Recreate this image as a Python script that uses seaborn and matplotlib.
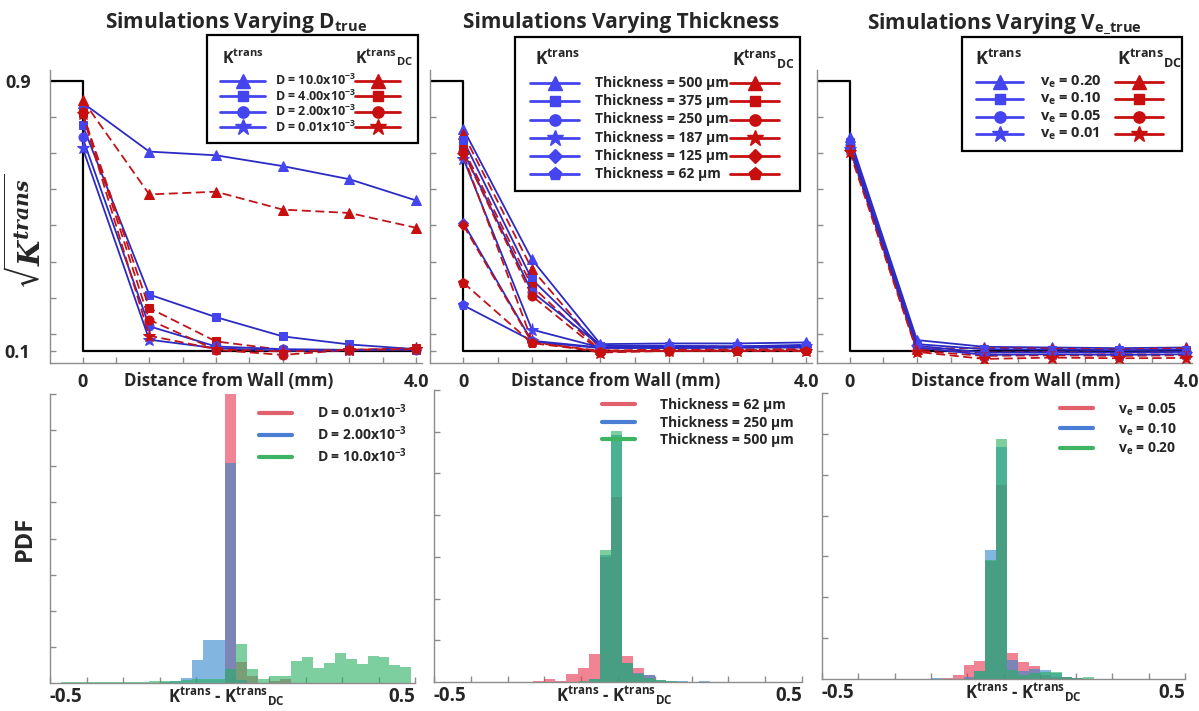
import numpy as np
import pandas as pd
import matplotlib
matplotlib.use("Agg")
import matplotlib.pyplot as plt
import seaborn as sns
from matplotlib.lines import Line2D
from matplotlib.text import Text
from matplotlib.offsetbox import DrawingArea, HPacker, VPacker, AnchoredOffsetbox

sns.set_theme(style="white")
plt.rcParams.update({
    "font.family": ["Open Sans", "DejaVu Sans"],
    "font.weight": "bold",
    "mathtext.fontset": "custom",
    "mathtext.rm": "Open Sans:bold",
    "mathtext.bf": "Open Sans:bold",
    "mathtext.it": "Open Sans:italic:bold",
    "mathtext.default": "rm",
})

# ---------------------------------------------------------------- data
distance_mm = [0.0, 0.8, 1.6, 2.4, 3.2, 4.0]
true_x = [-0.39, 0.0, 0.0, 4.0]
true_y = [0.9, 0.9, 0.1, 0.1]

# varying D
d_labels = ["D = 10.0x10$^{-3}$", "D = 4.00x10$^{-3}$",
            "D = 2.00x10$^{-3}$", "D = 0.01x10$^{-3}$"]
d_ktrans = [
    [0.836, 0.691, 0.680, 0.648, 0.609, 0.546],
    [0.770, 0.267, 0.200, 0.143, 0.119, 0.105],
    [0.733, 0.173, 0.113, 0.105, 0.103, 0.103],
    [0.703, 0.133, 0.108, 0.100, 0.102, 0.105],
]
d_ktrans_dc = [
    [0.845, 0.564, 0.572, 0.519, 0.509, 0.465],
    [0.805, 0.227, 0.128, 0.103, 0.103, 0.108],
    [0.807, 0.192, 0.103, 0.088, 0.103, 0.105],
    [0.802, 0.145, 0.105, 0.098, 0.103, 0.105],
]

# varying wall thickness
t_labels = ["Thickness = 500 µm", "Thickness = 375 µm", "Thickness = 250 µm",
            "Thickness = 187 µm", "Thickness = 125 µm", "Thickness = 62 µm"]
t_ktrans = [
    [0.758, 0.371, 0.120, 0.122, 0.122, 0.125],
    [0.724, 0.312, 0.115, 0.115, 0.113, 0.115],
    [0.690, 0.275, 0.115, 0.113, 0.113, 0.118],
    [0.670, 0.163, 0.110, 0.110, 0.112, 0.115],
    [0.479, 0.128, 0.108, 0.110, 0.110, 0.112],
    [0.235, 0.130, 0.110, 0.108, 0.110, 0.110],
]
t_ktrans_dc = [
    [0.743, 0.343, 0.105, 0.115, 0.112, 0.110],
    [0.699, 0.292, 0.100, 0.105, 0.105, 0.105],
    [0.689, 0.263, 0.098, 0.100, 0.102, 0.105],
    [0.680, 0.130, 0.095, 0.100, 0.100, 0.100],
    [0.472, 0.125, 0.100, 0.100, 0.102, 0.102],
    [0.302, 0.123, 0.098, 0.100, 0.100, 0.100],
]

# varying ve
v_labels = ["v$_e$ = 0.20", "v$_e$ = 0.10", "v$_e$ = 0.05", "v$_e$ = 0.01"]
v_ktrans = [
    [0.733, 0.132, 0.112, 0.110, 0.108, 0.110],
    [0.720, 0.120, 0.105, 0.104, 0.102, 0.104],
    [0.710, 0.115, 0.095, 0.096, 0.095, 0.097],
    [0.700, 0.110, 0.088, 0.090, 0.088, 0.090],
]
v_ktrans_dc = [
    [0.713, 0.107, 0.108, 0.107, 0.104, 0.108],
    [0.705, 0.105, 0.095, 0.097, 0.094, 0.096],
    [0.698, 0.100, 0.085, 0.087, 0.085, 0.087],
    [0.690, 0.097, 0.076, 0.080, 0.078, 0.079],
]

# histograms of Ktrans - Ktrans_DC (bin width 0.03)
hist_edges = [round(-0.5 + 0.03 * k, 2) for k in range(34)]

d_hist_labels = ["D = 0.01x10$^{-3}$", "D = 2.00x10$^{-3}$", "D = 10.0x10$^{-3}$"]
d_hist = [
    [0, 0, 0, 0, 0, 0, 0, 0, 0, 0, 0, 0, 0, 0, 0, 0, 8.0, 0.59, 0.20, 0,
     0.05, 0.10, 0, 0, 0, 0, 0, 0, 0, 0, 0, 0, 0],
    [0, 0, 0, 0, 0, 0, 0, 0, 0, 0, 0.03, 0.05, 0.15, 0.65, 1.19, 1.20, 6.1, 0.08,
     0, 0, 0, 0, 0, 0, 0, 0, 0, 0, 0, 0, 0, 0, 0],
    [0, 0.02, 0.03, 0.02, 0.02, 0.03, 0.03, 0.04, 0.04, 0.05, 0.05, 0.06, 0.08,
     0.10, 0.10, 0.12, 0.38, 1.07, 0.38, 0.12, 0.18, 0.19, 0.62, 0.73, 0.41,
     0.55, 0.82, 0.66, 0.52, 0.75, 0.72, 0.50, 0.43],
]

t_hist_labels = ["Thickness = 62 µm", "Thickness = 250 µm", "Thickness = 500 µm"]
t_hist = [
    [0, 0, 0, 0, 0, 0, 0, 0, 0, 0.03, 0.06, 0.03, 0.18, 0.34, 0.68, 3.0, 4.44,
     0.63, 0.34, 0.16, 0.03, 0, 0, 0, 0, 0, 0, 0, 0, 0, 0, 0, 0],
    [0, 0, 0, 0, 0, 0, 0, 0, 0, 0, 0, 0, 0, 0, 0.08, 3.04, 5.92, 0.46, 0.22,
     0.16, 0.05, 0.03, 0.02, 0, 0.02, 0, 0, 0, 0, 0, 0, 0, 0],
    [0, 0, 0, 0, 0, 0, 0, 0, 0, 0, 0, 0, 0, 0.03, 0.08, 3.16, 6.02, 0.46, 0.20,
     0.10, 0.04, 0.03, 0, 0, 0, 0, 0, 0, 0, 0, 0, 0, 0],
]

v_hist_labels = ["v$_e$ = 0.05", "v$_e$ = 0.10", "v$_e$ = 0.20"]
v_hist = [
    [0, 0, 0, 0, 0, 0, 0, 0, 0, 0, 0, 0.02, 0.11, 0.35, 0.45, 2.90, 4.76, 0.64,
     0.41, 0.31, 0.10, 0.06, 0.05, 0.03, 0, 0, 0, 0, 0, 0, 0, 0, 0],
    [0, 0, 0, 0, 0, 0, 0, 0, 0, 0, 0.02, 0, 0, 0.05, 0.19, 3.15, 5.69, 0.47,
     0.20, 0.24, 0.21, 0.15, 0.05, 0.02, 0, 0, 0, 0, 0, 0, 0, 0, 0],
    [0, 0, 0, 0, 0, 0, 0, 0, 0, 0, 0, 0, 0, 0, 0.19, 2.92, 5.87, 0.23, 0.10,
     0.15, 0.18, 0.18, 0.05, 0.03, 0.04, 0, 0, 0, 0, 0, 0, 0, 0],
]

# ---------------------------------------------------------------- style
BLUE_LINE = "#2B2BC4"
BLUE_MK = "#4545F0"
RED_LINE = "#C0141A"
RED_MK = "#C80F10"
SPINE = "#8C8C8C"
HIST_COLORS = ["#E6334D", "#2F86CC", "#26B060"]
HIST_KEY_COLORS = ["#E0606C", "#4A7ED4", "#3CB462"]

profile_markers4 = [("^", 7.5), ("s", 6.0), ("o", 6.5), ("*", 9.5)]
profile_markers6 = [("^", 7.5), ("s", 6.0), ("o", 6.5), ("*", 9.5), ("D", 5.5), ("p", 7.5)]

K_TRANS = r"K$^{\mathbf{trans}}$"
K_TRANS_DC = r"K$^{\mathbf{trans}}{}_{\mathbf{DC}}$"

W, H = 1199, 711
PT = 72.0 / 100.0
fig = plt.figure(figsize=(W / 100, H / 100), dpi=100)
fig.patch.set_facecolor("white")


def axes_px(left, right, top, bottom):
    return fig.add_axes([left / W, 1 - bottom / H, (right - left) / W, (bottom - top) / H])


def style_spines(ax):
    sns.despine(ax=ax)
    for side in ("left", "bottom"):
        ax.spines[side].set_color(SPINE)
        ax.spines[side].set_linewidth(1.0)


def profile_panel(ax, title, blues, reds, marks, xlabel_x):
    ax.plot(true_x, true_y, color="black", lw=1.6, zorder=2)
    for b, r, (m, ms) in zip(blues, reds, marks):
        sns.lineplot(x=distance_mm, y=b, ax=ax, color=BLUE_LINE, lw=1.3,
                     marker=m, markersize=ms, markerfacecolor=BLUE_MK,
                     markeredgecolor=BLUE_MK, sort=False, estimator=None,
                     legend=False, zorder=3)
        sns.lineplot(x=distance_mm, y=r, ax=ax, color=RED_LINE, lw=1.3,
                     linestyle=(0, (5, 2.5)), marker=m, markersize=ms,
                     markerfacecolor=RED_MK, markeredgecolor=RED_MK,
                     sort=False, estimator=None, legend=False, zorder=3)
    ax.set_xlim(-0.39, 4.07)
    ax.set_ylim(0.064, 0.933)
    xt = np.round(np.arange(0, 4.01, 0.4), 1)
    ax.set_xticks(xt)
    ax.set_xticklabels(["0"] + [""] * 9 + ["4.0"])
    ax.set_yticks([0.1, 0.9])
    ax.set_yticks([0.793, 0.686, 0.579, 0.472, 0.365, 0.258, 0.151], minor=True)
    ax.set_yticklabels([])
    ax.tick_params(axis="both", which="both", direction="in", length=4,
                   color=SPINE, width=1, bottom=True, left=True, labelsize=13)
    ax.tick_params(axis="x", pad=7)
    ax.set_xlabel("")
    ax.set_ylabel("")
    ax.annotate("Distance from Wall (mm)", xy=(xlabel_x, 0), xycoords="axes fraction",
                xytext=(0, -13), textcoords="offset points", ha="center",
                va="center", fontsize=12.2, fontweight="bold")
    ax.set_title(title, fontsize=15, fontweight="bold", pad=30)
    style_spines(ax)


def hist_panel(ax, series, labels, ymax, xlabel_x):
    centers = [(a + b) / 2 for a, b in zip(hist_edges[:-1], hist_edges[1:])]
    for h, c in zip(series, HIST_COLORS):
        frame = pd.DataFrame({"diff": centers, "pdf": h})
        sns.histplot(data=frame, x="diff", weights="pdf", bins=hist_edges, ax=ax,
                     color=c, alpha=0.6, linewidth=0, stat="count", element="bars")
    ax.set_xlim(-0.5, 0.5)
    ax.set_ylim(0, ymax)
    xt = np.round(np.arange(-0.5, 0.501, 0.1), 1)
    ax.set_xticks(xt)
    ax.set_xticklabels(["-0.5"] + [""] * 9 + ["0.5"], fontsize=13.5)
    lbls = ax.get_xticklabels()
    lbls[0].set_ha("left")
    lbls[-1].set_ha("right")
    ax.set_yticks(np.arange(1, ymax + 1))
    ax.set_yticklabels([])
    ax.tick_params(axis="both", direction="in", length=4, color=SPINE, width=1,
                   bottom=True, left=True, pad=3)
    ax.set_xlabel("")
    ax.set_ylabel("")
    ax.annotate(K_TRANS + " - " + K_TRANS_DC, xy=(xlabel_x, 0),
                xycoords="axes fraction", xytext=(0, -10),
                textcoords="offset points", ha="center", va="center",
                fontsize=12, fontweight="bold")
    handles = [Line2D([], [], color=c, lw=3.0) for c in HIST_KEY_COLORS]
    ax.legend(handles, labels, loc="upper right", frameon=False, fontsize=10,
              handlelength=2.4, handletextpad=1.8, labelspacing=0.25,
              borderaxespad=0.2)
    style_spines(ax)


def key_box(ax, labels, marks, left, top, pad, head_h, row_h, cols, fs,
            head_x, line_span):
    bw, tw, rw = cols

    def cell(w, h):
        return DrawingArea(w * PT, h * PT, 0, 0, clip=False)

    def handle(w, color, m, ms, l0, l1):
        da = cell(w, row_h)
        y = row_h * PT / 2
        da.add_artist(Line2D([l0 * PT, l1 * PT], [y, y], color=color, lw=2.0))
        da.add_artist(Line2D([(l0 + l1) / 2 * PT], [y], color=color,
                             marker=m, markersize=ms * 1.25, linestyle="none"))
        return da

    rows = []
    hb, ht, hr = cell(bw, head_h), cell(tw, head_h), cell(rw, head_h)
    hb.add_artist(Text(head_x[0] * PT, head_h * PT / 2, K_TRANS, fontsize=fs + 2.5,
                       fontweight="bold", va="center", ha="left"))
    hr.add_artist(Text(head_x[1] * PT, head_h * PT / 2, K_TRANS_DC, fontsize=fs + 2.5,
                       fontweight="bold", va="center", ha="left"))
    rows.append(HPacker(children=[hb, ht, hr], sep=0, pad=0, align="center"))
    (b0, b1), (r0, r1), tx = line_span
    for lab, (m, ms) in zip(labels, marks):
        b = handle(bw, BLUE_MK, m, ms, b0, b1)
        t = cell(tw, row_h)
        t.add_artist(Text(tx * PT, row_h * PT / 2, lab, fontsize=fs,
                          fontweight="bold", va="center", ha="left"))
        r = handle(rw, RED_MK, m, ms, r0, r1)
        rows.append(HPacker(children=[b, t, r], sep=0, pad=0, align="center"))
    box = VPacker(children=rows, sep=0, pad=0)
    anchored = AnchoredOffsetbox(loc="upper left", child=box, pad=pad * PT / 10,
                                 borderpad=0, frameon=True, prop=dict(size=10),
                                 bbox_to_anchor=(left / W, 1 - top / H),
                                 bbox_transform=fig.transFigure)
    anchored.patch.set_edgecolor("black")
    anchored.patch.set_linewidth(1.6)
    anchored.patch.set_facecolor("white")
    anchored.set_zorder(6)
    ax.add_artist(anchored)


# ---------------------------------------------------------------- top row
ax1 = axes_px(50, 422, 70, 363)
profile_panel(ax1, r"Simulations Varying D$_{\mathbf{true}}$", d_ktrans, d_ktrans_dc,
              profile_markers4, 0.48)
ax1.set_yticklabels(["0.1", "0.9"], fontsize=13)
ax1.tick_params(axis="y", pad=14)
ax1.set_ylabel(r"$\sqrt{\mathbfit{K}^{\mathbfit{trans}}}$", fontsize=21,
               math_fontfamily="dejavuserif")
ax1.yaxis.set_label_coords(-0.005, 0.45)
key_box(ax1, d_labels, profile_markers4, 207, 35, 8, 30, 15.5, (55, 80, 60), 9,
        (7, 5), ((5, 50), (5, 50), 5))

ax2 = axes_px(430, 812, 70, 363)
profile_panel(ax2, "Simulations Varying Thickness", t_ktrans, t_ktrans_dc,
              profile_markers6, 0.485)
key_box(ax2, t_labels, profile_markers6, 515, 37, 8, 29, 18.2, (65, 137, 67), 10,
        (12, 7), ((7, 56), (5, 54), 7))

ax3 = axes_px(817, 1192, 70, 363)
profile_panel(ax3, r"Simulations Varying V$_{\mathbf{e\_true}}$", v_ktrans, v_ktrans_dc,
              profile_markers4, 0.53)
key_box(ax3, v_labels, profile_markers4, 962, 37, 8, 28, 17.4, (62, 76, 66), 10.5,
        (5, 9), ((6, 53), (7, 55), 8))

# ---------------------------------------------------------------- bottom row
ax4 = axes_px(50, 415, 394, 683)
hist_panel(ax4, d_hist, d_hist_labels, 8, 0.482)
ax4.set_ylabel("PDF", fontsize=17, fontweight="bold")
ax4.yaxis.set_label_coords(-0.035, 0.5)

ax5 = axes_px(434, 802, 390, 682)
hist_panel(ax5, t_hist, t_hist_labels, 7, 0.49)

ax6 = axes_px(822, 1185, 393, 679)
hist_panel(ax6, v_hist, v_hist_labels, 7, 0.554)

fig.savefig("out.png", dpi=100, facecolor="white")
